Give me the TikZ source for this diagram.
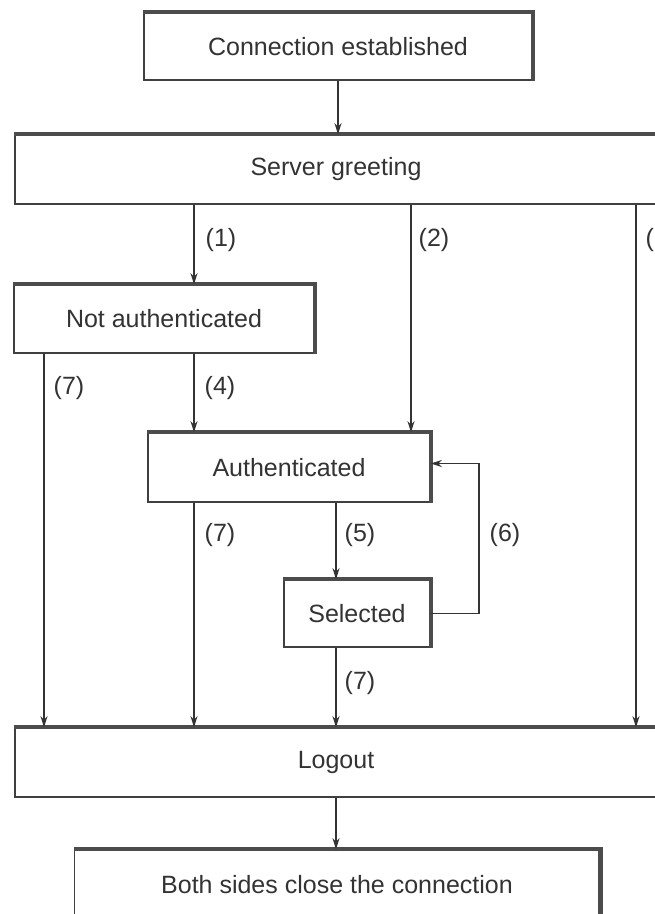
\documentclass[tikz,border=0pt]{standalone}
\usepackage{fontspec}
\setmainfont{Liberation Sans}
\usetikzlibrary{arrows.meta,calc}
\begin{document}
\begin{tikzpicture}[x=1pt,y=-1pt,
  every node/.style={font=\fontsize{25}{29}\selectfont, text=black!80},
  statebox/.style={draw=black!75, line width=1.6pt, rectangle, inner sep=0pt, anchor=center},
  edgethick/.style={draw=black!70, line width=4.5pt},
  conn/.style={draw=black!80, line width=1.6pt, -{Stealth[length=11pt,width=7pt]}},
  lbl/.style={inner sep=0pt, anchor=center},
]
\clip (0,0) rectangle (655,914);
\fill[white] (0,0) rectangle (655,914);

% boxes
\node[statebox, minimum width=388pt, minimum height=67pt] (ce) at (338,46.5) {Connection established};
\node[statebox, minimum width=642pt, minimum height=69pt] (sg) at (336,169.5) {Server greeting};
\node[statebox, minimum width=300pt, minimum height=68pt] (na) at (164,319) {Not authenticated};
\node[statebox, minimum width=282pt, minimum height=69pt] (au) at (289,467.5) {Authenticated};
\node[statebox, minimum width=146pt, minimum height=67pt] (se) at (357,613.5) {Selected};
\node[statebox, minimum width=642pt, minimum height=69pt] (lo) at (336,762.5) {Logout};
\node[statebox, minimum width=525pt, minimum height=70pt] (bs) at (337,885) {Both sides close the connection};

% thick top/right edges
\draw[edgethick] (ce.north west) -- (ce.north east) -- (ce.south east);
\draw[edgethick] (sg.north west) -- (sg.north east);
\draw[edgethick] (na.north west) -- (na.north east) -- (na.south east);
\draw[edgethick] (au.north west) -- (au.north east) -- (au.south east);
\draw[edgethick] (se.north west) -- (se.north east) -- (se.south east);
\draw[edgethick] (lo.north west) -- (lo.north east);
\draw[edgethick] (bs.north west) -- (bs.north east) -- (bs.south east);

% column coordinates
\coordinate (c0) at (44,0);
\coordinate (c1) at (194,0);
\coordinate (c2) at (411,0);
\coordinate (c3) at (636,0);
\coordinate (c5) at (336,0);
\coordinate (c6) at (479,0);

% connectors
\draw[conn] (ce.south) -- (ce.south |- sg.north);
\draw[conn] (c1 |- sg.south) -- (c1 |- na.north);
\draw[conn] (c2 |- sg.south) -- (c2 |- au.north);
\draw[conn] (c3 |- sg.south) -- (c3 |- lo.north);
\draw[conn] (c0 |- na.south) -- (c0 |- lo.north);
\draw[conn] (c1 |- na.south) -- (c1 |- au.north);
\draw[conn] (c1 |- au.south) -- (c1 |- lo.north);
\draw[conn] (c5 |- au.south) -- (c5 |- se.north);
\draw[conn] (c5 |- se.south) -- (c5 |- lo.north);
\draw[conn] (se.east) -- (c6 |- se.east) -- ($(c6 |- au.east)+(0,-4)$) -- ($(au.east)+(0,-4)$);
\draw[conn] (lo.south) -- (lo.south |- bs.north);

% labels
\node[lbl] (l1) at (221,240) {(1)};
\node[lbl] (l2) at (434,240) {(2)};
\node[lbl] (l3) at (661,240) {(3)};
\node[lbl] (l7a) at (69,388) {(7)};
\node[lbl] (l4) at (220,388) {(4)};
\node[lbl] (l7b) at (220,535) {(7)};
\node[lbl] (l5) at (360,535) {(5)};
\node[lbl] (l6) at (505,535) {(6)};
\node[lbl] (l7c) at (360,683) {(7)};
\end{tikzpicture}
\end{document}
